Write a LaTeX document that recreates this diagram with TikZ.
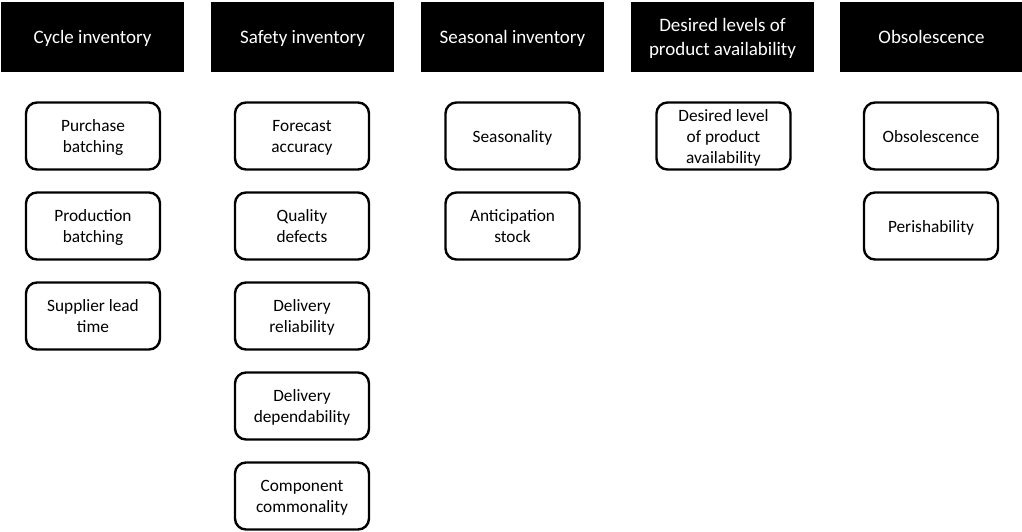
\documentclass[tikz,border=0pt]{standalone}
\usepackage{fontspec}
\setmainfont{Carlito}
\begin{document}
\begin{tikzpicture}[x=1pt,y=-1pt,
  header/.style={fill=black, draw=none, text=white, minimum width=183pt, minimum height=70pt,
    inner sep=0pt, text depth=-1pt, align=center, font=\fontsize{19}{24}\selectfont},
  factor/.style={draw=black, line width=2.4pt, rounded corners=11pt, fill=white,
    minimum width=134pt, minimum height=67pt, inner sep=0pt, text depth=-2pt, align=center,
    font=\fontsize{17.3}{21}\selectfont}]
\useasboundingbox (0,0) rectangle (1022,531);

% column headings
\node[header] (h1) at (92.5,37) {Cycle inventory};
\node[header] (h2) at (302.5,37) {Safety inventory};
\node[header] (h3) at (512.5,37) {Seasonal inventory};
\node[header] (h4) at (722.5,37) {Desired levels of\\product availability};
\node[header] (h5) at (931.5,37) {Obsolescence};

% cycle inventory drivers
\node[factor] (c1) at (93,136) {Purchase\\batching};
\node[factor] (c2) at (93,226) {Production\\batching};
\node[factor] (c3) at (93,316) {Supplier lead\\time};

% safety inventory drivers
\node[factor] (s1) at (302,136) {Forecast\\accuracy};
\node[factor] (s2) at (302,226) {Quality\\defects};
\node[factor] (s3) at (302,316) {Delivery\\reliability};
\node[factor] (s4) at (302,406) {Delivery\\dependability};
\node[factor] (s5) at (302,496) {Component\\commonality};

% seasonal inventory drivers
\node[factor] (n1) at (512.5,136) {Seasonality};
\node[factor] (n2) at (512.5,226) {Anticipation\\stock};

% availability driver
\node[factor] (a1) at (723.5,136) {Desired level\\of product\\availability};

% obsolescence drivers
\node[factor] (o1) at (931,136) {Obsolescence};
\node[factor] (o2) at (931,226) {Perishability};
\end{tikzpicture}
\end{document}
